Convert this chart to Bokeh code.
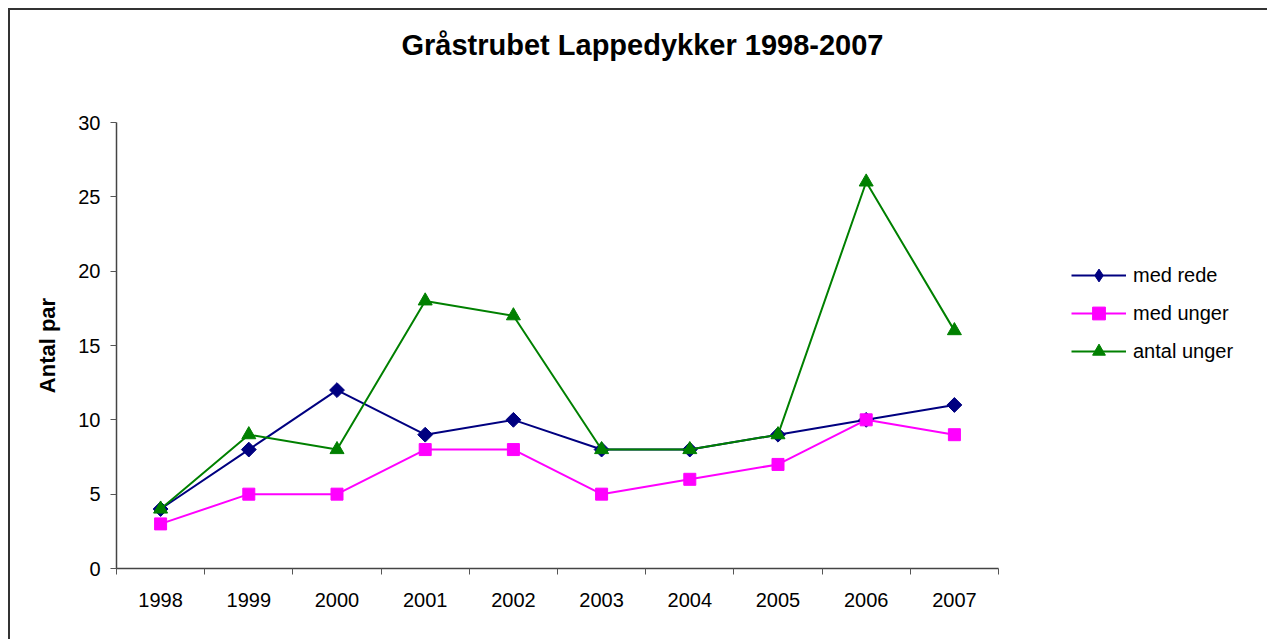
import numpy as np
from bokeh.plotting import figure
from bokeh.models import Range1d, FixedTicker, Legend, LegendItem, Title
from bokeh.embed import file_html
from bokeh.resources import INLINE

years = ["1998", "1999", "2000", "2001", "2002", "2003", "2004", "2005", "2006", "2007"]
med_rede = [4, 8, 12, 9, 10, 8, 8, 9, 10, 11]
med_unger = [3, 5, 5, 8, 8, 5, 6, 7, 10, 9]
antal_unger = [4, 9, 8, 18, 17, 8, 8, 9, 26, 16]
y_ticks = [0, 5, 10, 15, 20, 25, 30]

FONT = "Liberation Sans"
n = len(years)
xc = [i + 0.5 for i in range(n)]

p = figure(frame_width=882, frame_height=446, output_backend="svg", toolbar_location=None,
           x_range=Range1d(0, n), y_range=Range1d(0, 30),
           min_border_left=106, min_border_right=269, min_border_top=112, min_border_bottom=71)
p.title = None
p.styles = {"margin-left": "8px", "margin-top": "8px",
            "border-left": "2px solid #333333", "border-top": "2px solid #333333"}

p.xgrid.visible = False
p.ygrid.visible = False
p.outline_line_color = None
p.background_fill_color = "white"
p.border_fill_color = "white"

# x axis: labels at category centers, ticks at boundaries
p.xaxis.ticker = FixedTicker(ticks=xc, minor_ticks=list(range(n + 1)))
p.xaxis.major_label_overrides = {x: y for x, y in zip(xc, years)}
p.xaxis.major_tick_out = 0
p.xaxis.major_tick_in = 0
p.xaxis.minor_tick_out = 6
p.xaxis.minor_tick_in = 0
p.xaxis.minor_tick_line_color = "#555555"
p.xaxis.axis_line_color = "#444444"
p.xaxis.axis_line_width = 1.5
p.xaxis.major_label_text_font = FONT
p.xaxis.major_label_text_font_size = "20px"
p.xaxis.major_label_text_color = "black"
p.xaxis.major_label_standoff = 18

p.yaxis.ticker = FixedTicker(ticks=y_ticks, minor_ticks=[])
p.yaxis.major_tick_out = 6
p.yaxis.major_tick_in = 0
p.yaxis.major_tick_line_color = "#555555"
p.yaxis.axis_line_color = "#444444"
p.yaxis.axis_line_width = 1.5
p.yaxis.major_label_text_font = FONT
p.yaxis.major_label_text_font_size = "20px"
p.yaxis.major_label_text_color = "black"
p.yaxis.major_label_standoff = 10
p.yaxis.axis_label = "Antal par"
p.yaxis.axis_label_text_font = FONT
p.yaxis.axis_label_text_font_style = "bold"
p.yaxis.axis_label_text_font_size = "22px"
p.yaxis.axis_label_text_color = "black"
p.yaxis.axis_label_standoff = 15

spacer = Title(text=" ", text_font_size="1px", standoff=54)
p.add_layout(spacer, "above")
t = Title(text="Gråstrubet Lappedykker 1998-2007", align="left",
          text_font=FONT, text_font_size="29px", text_font_style="bold",
          text_color="black", offset=285, standoff=10)
p.add_layout(t, "above")

l1 = p.line(xc, med_rede, line_color="#000080", line_width=2)
m1 = p.scatter(xc, med_rede, marker="square", angle=np.pi / 4, size=10.5,
               fill_color="#000080", line_color="#000080")
# legend-only diamond swatch (NaN position, nothing drawn in the plot)
m1_leg = p.scatter(x=[float("nan")], y=[float("nan")], marker="diamond",
                   fill_color="#000080", line_color="#000080")
l2 = p.line(xc, med_unger, line_color="#FF00FF", line_width=2)
m2 = p.scatter(xc, med_unger, marker="square", size=12, fill_color="#FF00FF", line_color="#FF00FF")
l3 = p.line(xc, antal_unger, line_color="#008000", line_width=2)
m3 = p.scatter(xc, antal_unger, marker="triangle", size=14, fill_color="#008000", line_color="#008000")

legend = Legend(items=[LegendItem(label="med rede", renderers=[l1, m1_leg]),
                       LegendItem(label="med unger", renderers=[l2, m2]),
                       LegendItem(label="antal unger", renderers=[l3, m3])],
                location=(73, 201), glyph_width=55, glyph_height=32, label_height=32,
                spacing=6, padding=5, margin=0, label_standoff=7,
                label_text_font=FONT, label_text_font_size="20px", label_text_color="black",
                border_line_color=None, background_fill_alpha=0)
p.add_layout(legend, "right")

open("out.html", "w").write(file_html(p, INLINE))
